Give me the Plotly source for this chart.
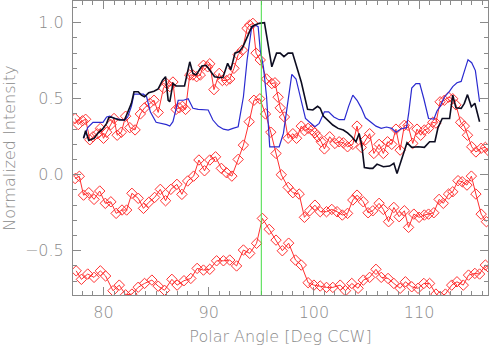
import plotly.graph_objects as go

# top red series (diamonds)
red_top_x = [77.3, 77.6, 78.0, 78.3, 78.7, 79.0, 79.4, 79.7, 80.0, 80.3, 80.7, 81.0, 81.3, 81.7,
             82.1, 82.5, 83.0, 83.5, 83.9, 84.4, 84.8, 85.2, 85.7, 86.0, 86.3, 86.6, 86.9, 87.2,
             87.5, 87.8, 88.2, 88.5, 88.85, 89.2, 89.5, 89.9, 90.1, 90.5, 91.0, 91.3, 91.7, 92.0,
             92.4, 92.8, 93.2, 93.65, 93.9, 94.2, 94.5, 94.9, 95.5, 96.0, 96.3, 96.6, 96.8, 97.2,
             97.55, 98.0, 98.35, 98.8, 99.1, 99.45, 99.8, 100.1, 100.4, 100.7, 101.0, 101.5, 102.0,
             102.4, 102.8, 103.2, 103.7, 104.1, 104.5, 104.9, 105.3, 105.7, 106.2, 106.6, 107.0,
             107.4, 107.8, 108.2, 108.6, 108.95, 109.4, 109.8, 110.15, 110.5, 110.9, 111.3, 111.6,
             112.0, 112.4, 112.8, 113.2, 113.5, 113.95, 114.3, 114.6, 115.0, 115.4, 115.9, 116.3, 116.7]
red_top_y = [0.37, 0.33, 0.355, 0.365, 0.23, 0.25, 0.27, 0.305, 0.24, 0.28, 0.33, 0.37, 0.26, 0.28,
             0.385, 0.31, 0.295, 0.40, 0.44, 0.47, 0.49, 0.41, 0.57, 0.60, 0.58, 0.61, 0.43, 0.44,
             0.45, 0.43, 0.656, 0.656, 0.645, 0.656, 0.72, 0.71, 0.73, 0.56, 0.667, 0.62, 0.62, 0.63,
             0.70, 0.79, 0.82, 0.963, 0.985, 0.996, 0.80, 0.755, 0.63, 0.60, 0.605, 0.51, 0.44, 0.38,
             0.24, 0.27, 0.24, 0.32, 0.29, 0.305, 0.294, 0.276, 0.25, 0.217, 0.17, 0.25, 0.206,
             0.217, 0.21, 0.184, 0.20, 0.32, 0.18, 0.23, 0.27, 0.14, 0.20, 0.14, 0.217,
             0.20, 0.30, 0.162, 0.325, 0.325, 0.206, 0.30, 0.26, 0.294, 0.305, 0.345, 0.34,
             0.48, 0.49, 0.51, 0.50, 0.46, 0.345, 0.32, 0.26, 0.184, 0.15, 0.174, 0.18, 0.15]

# middle red series
red_mid_x = [77.3, 77.7, 78.1, 78.6, 79.1, 79.64, 80.17, 80.7, 81.2, 81.76, 82.2, 82.7, 83.3, 83.8,
             84.3, 84.86, 85.4, 85.9, 86.4, 86.98, 87.45, 88.0, 88.57, 89.07, 89.6, 90.1, 90.65,
             91.2, 91.7, 92.2, 92.8, 93.3, 93.85, 94.3, 94.86, 95.4, 95.9, 96.4, 96.9, 97.55, 98.0,
             98.6, 99.1, 99.6, 100.1, 100.6, 101.2, 101.7, 102.2, 102.7, 103.2, 103.7, 104.1, 104.7,
             105.15, 105.6, 106.2, 106.6, 107.1, 107.6, 108.1, 108.6, 109.0, 109.5, 110.0, 110.5,
             110.9, 111.4, 111.9, 112.3, 112.8, 113.2, 113.7, 114.1, 114.55, 114.97, 115.4, 115.9, 116.4]
red_mid_y = [-0.025, -0.01, -0.134, -0.118, -0.162, -0.107, -0.188, -0.178, -0.254, -0.232, -0.232,
             -0.122, -0.155, -0.221, -0.182, -0.149, -0.096, -0.171, -0.096, -0.063, -0.129, -0.041,
             -0.009, 0.097, 0.026, 0.097, 0.118, 0.042, 0.013, -0.009, 0.101, 0.195, 0.349, 0.49,
             0.50, 0.40, 0.28, 0.14, 0.0, -0.083, -0.118, -0.127, -0.28, -0.237, -0.2, -0.243, -0.243,
             -0.228, -0.243, -0.265, -0.254, -0.166, -0.134, -0.178, -0.25, -0.237, -0.188, -0.228,
             -0.309, -0.215, -0.276, -0.237, -0.346, -0.259, -0.28, -0.265, -0.259, -0.25, -0.162,
             -0.188, -0.127, -0.112, -0.039, -0.046, -0.068, -0.009, -0.127, -0.259, -0.309]

# bottom red series
red_low_x = [77.4, 77.9, 78.5, 79.1, 79.7, 80.2, 80.9, 81.5, 82.1, 82.7, 83.3, 83.9, 84.6, 85.2,
             85.8, 86.5, 87.0, 87.65, 88.3, 88.9, 89.5, 90.1, 90.75, 91.4, 92.0, 92.65, 93.3, 93.9,
             94.55, 95.1, 95.75, 96.4, 97.0, 97.6, 98.25, 98.8, 99.45, 100.0, 100.6, 101.2, 101.8,
             102.5, 103.0, 103.6, 104.2, 104.7, 105.3, 105.9, 106.4, 107.05, 107.6, 108.2, 108.7,
             109.3, 109.9, 110.45, 111.0, 111.6, 112.0, 112.5, 113.1, 113.6, 114.2, 114.7, 115.3,
             115.75, 116.3, 116.7]
red_low_y = [-0.632, -0.688, -0.653, -0.675, -0.632, -0.666, -0.763, -0.726, -0.79, -0.785, -0.74,
             -0.715, -0.693, -0.733, -0.76, -0.688, -0.726, -0.697, -0.682, -0.616, -0.627, -0.622,
             -0.566, -0.566, -0.561, -0.60, -0.495, -0.517, -0.451, -0.287, -0.359, -0.43, -0.50,
             -0.45, -0.561, -0.594, -0.71, -0.726, -0.732, -0.741, -0.741, -0.726, -0.763, -0.715,
             -0.747, -0.693, -0.675, -0.622, -0.675, -0.682, -0.715, -0.747, -0.704, -0.737, -0.747,
             -0.715, -0.715, -0.785, -0.80, -0.785, -0.726, -0.704, -0.726, -0.66, -0.649, -0.653,
             -0.594, -0.616]

# blue line
blue_x = [78.1, 78.5, 79.0, 79.5, 79.95, 80.3, 80.6, 81.06, 81.5, 82.0, 82.3, 82.65, 82.9, 83.3,
          83.8, 84.1, 84.45, 85.0, 85.5, 86.0, 86.3, 86.6, 87.1, 87.6, 88.05, 88.5, 89.0, 89.5,
          89.95, 90.4, 90.9, 91.4, 91.85, 92.3, 92.8, 93.3, 93.65, 94.07, 94.4, 94.7, 94.9, 95.2,
          95.5, 95.8, 96.3, 96.7, 97.1, 97.4, 97.9, 98.3, 98.8, 99.2, 99.6, 100.1, 100.5, 101.0,
          101.4, 101.9, 102.4, 102.9, 103.3, 103.7, 104.1, 104.5, 104.9, 105.4, 105.9, 106.4,
          106.9, 107.4, 107.8, 108.3, 108.8, 109.0, 109.3, 109.7, 110.06, 110.45, 110.9, 111.4,
          111.7, 112.0, 112.4, 112.9, 113.2, 113.6, 114.0, 114.3, 114.65, 115.0, 115.35, 115.75]
blue_y = [0.24, 0.31, 0.345, 0.345, 0.345, 0.38, 0.386, 0.37, 0.364, 0.36, 0.38, 0.45, 0.53, 0.53,
          0.53, 0.513, 0.414, 0.345, 0.338, 0.33, 0.32, 0.349, 0.49, 0.49, 0.50, 0.437, 0.43, 0.43,
          0.426, 0.36, 0.32, 0.30, 0.294, 0.305, 0.316, 0.513, 0.755, 0.963, 0.985, 0.974, 0.82, 0.71,
          0.513, 0.184, 0.184, 0.184, 0.272, 0.426, 0.66, 0.63, 0.49, 0.37, 0.345, 0.316, 0.338, 0.414,
          0.414, 0.38, 0.362, 0.362, 0.45, 0.524, 0.49, 0.44, 0.375, 0.345, 0.32, 0.305,
          0.314, 0.305, 0.28, 0.303, 0.31, 0.40, 0.57, 0.60, 0.60, 0.50, 0.37, 0.366,
          0.42, 0.45, 0.51, 0.55, 0.58, 0.605, 0.614, 0.68, 0.757, 0.737, 0.685, 0.48]

# black line
black_x = [78.1, 78.3, 78.6, 79.1, 79.5, 79.9, 80.3, 80.5, 80.7, 81.06, 81.5, 82.0, 82.2, 82.65,
           82.9, 83.3, 83.6, 83.9, 84.3, 84.8, 85.2, 85.6, 85.9, 86.15, 86.3, 86.6, 86.9, 87.4,
           87.7, 88.2, 88.5, 88.8, 89.35, 89.76, 90.24, 90.56, 91.0, 91.35, 91.8, 92.1, 92.5, 92.9,
           93.25, 93.7, 94.1, 94.4, 94.8, 95.3, 95.6, 96.0, 96.45, 96.8, 97.15, 97.55, 97.97, 98.35,
           98.8, 99.4, 99.9, 100.35, 100.6, 100.9, 101.4, 101.8, 102.3, 102.8, 103.2, 103.6, 104.0,
           104.3, 104.55, 104.8, 105.3, 105.6, 106.0, 106.6, 107.2, 107.6, 107.9, 108.2, 108.5,
           108.85, 109.3, 109.9, 110.5, 111.0, 111.5, 111.8, 112.2, 112.6, 112.9, 113.2, 113.5,
           114.0, 114.3, 114.6, 114.97, 115.3, 115.75]
black_y = [0.24, 0.29, 0.226, 0.24, 0.276, 0.30, 0.338, 0.375, 0.38, 0.37, 0.36, 0.36, 0.393, 0.47,
           0.546, 0.546, 0.524, 0.513, 0.54, 0.55, 0.565, 0.62, 0.645, 0.49, 0.48, 0.60, 0.584, 0.584,
           0.584, 0.743, 0.667, 0.656, 0.715, 0.72, 0.678, 0.645, 0.64, 0.64, 0.733, 0.69, 0.80, 0.81,
           0.842, 0.908, 0.974, 0.985, 0.996, 1.0, 0.886, 0.71, 0.80, 0.80, 0.777, 0.80, 0.80, 0.715,
           0.61, 0.43, 0.426, 0.45, 0.437, 0.386, 0.355, 0.327, 0.305, 0.294, 0.275, 0.25, 0.217,
           0.272, 0.195, 0.047, 0.042, 0.042, 0.07, 0.053, 0.057, 0.075, 0.009, 0.075, 0.14,
           0.21, 0.18, 0.184, 0.18, 0.217, 0.217, 0.31, 0.37, 0.37, 0.37, 0.524, 0.44,
           0.437, 0.47, 0.527, 0.447, 0.47, 0.349]

marker_angle = 95.0
y_ticks = [-0.5, 0.0, 0.5, 1.0]
y_range = [-0.791, 1.143]

gray = '#8a8a8a'
clear = 'rgba(0,0,0,0)'
font = dict(family='DejaVu Sans', size=16, color=gray, weight=200)

fig = go.Figure()

red_sets = [(red_top_x, red_top_y, 'y'), (red_mid_x, red_mid_y, 'y'), (red_low_x, red_low_y, 'y2')]
for xs, ys, ax in red_sets:
    fig.add_trace(go.Scatter(
        x=xs, y=ys, mode='lines+markers', yaxis=ax,
        line=dict(color='#ff3030', width=1),
        marker=dict(symbol='diamond-open', size=8, color='#ff3030', line=dict(width=1))
    ))

fig.add_trace(go.Scatter(x=blue_x, y=blue_y, mode='lines',
                         line=dict(color='#2a2ad0', width=1.2)))
fig.add_trace(go.Scatter(x=black_x, y=black_y, mode='lines',
                         line=dict(color='#0c0c20', width=1.6)))

fig.add_vline(x=marker_angle, line_color='#44dd44', line_width=1)

axis_common = dict(
    showgrid=False, zeroline=False, showline=True, linecolor=gray, linewidth=1,
    mirror='ticks', ticks='inside', tickcolor=gray, tickwidth=1,
    tickfont=font, automargin=False,
)

fig.update_xaxes(range=[77.1, 116.55], tickvals=[80, 90, 100, 110], ticklen=8,
                 minor=dict(dtick=1, ticks='inside', ticklen=4, tickcolor=gray),
                 ticklabelstandoff=3,
                 title=dict(text='Polar Angle [Deg CCW]', font=font, standoff=9),
                 **axis_common)
fig.update_yaxes(range=y_range, tickvals=y_ticks, tickformat='.1f',
                 ticklen=8, showticklabels=False,
                 minor=dict(dtick=0.1, ticks='inside', ticklen=4, tickcolor=gray),
                 title=dict(text='Normalized Intensity', font=font, standoff=53),
                 **axis_common)

# label-only copy of the y axis; carries the tick numbers next to the frame
fig.update_layout(yaxis2=dict(
    overlaying='y', anchor='free', position=20 / 415, side='left',
    range=y_range, tickvals=y_ticks, tickformat='.1f', tickfont=font,
    showgrid=False, zeroline=False, showline=True, linecolor=clear,
    ticks='inside', ticklen=8, tickcolor=clear, ticklabelstandoff=26,
    minor=dict(dtick=0.1, ticks='inside', ticklen=4, tickcolor=clear),
    automargin=False,
))

fig.update_layout(width=491, height=347, margin=dict(l=73, r=3, t=1, b=52),
                  showlegend=False, plot_bgcolor='white', paper_bgcolor='white')

# drop the default page margin so the figure sits at the window's corner
fig.write_html("out.html", config={'displayModeBar': False},
               post_script="document.body.style.margin='0';")
